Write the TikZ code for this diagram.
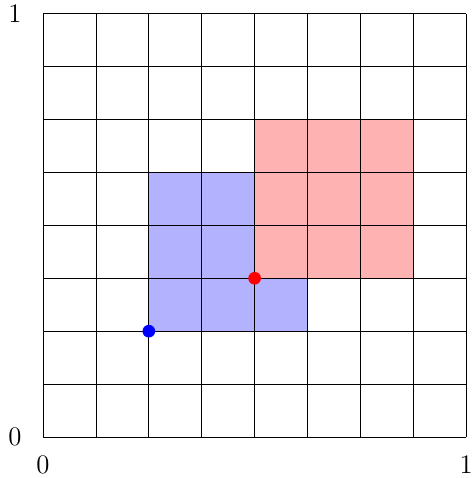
\documentclass[tikz,border=0pt]{standalone}
\usepackage{xcolor}
\usepackage{tikz}
\usetikzlibrary{positioning}

\begin{document}
\begin{tikzpicture}[font=\Large,
 lbl/.style={inner sep=0pt},
 pt/.style={circle,inner sep=0pt,minimum size=2.4mm}]
\useasboundingbox (-0.813,-0.775) rectangle (8.11,8.26);
% shaded squares
\fill[blue!30] (2,2) rectangle (5,5);
\fill[red!30] (4,3) rectangle (7,6);
\draw[thin] (0,0) grid (8,8);
% corner points
\node[pt,fill=blue] (pb) at (2,2) {};
\node[pt,fill=red] (pr) at (4,3) {};
% axis labels
\node[lbl] (y0) at (-0.53,0) {0};
\node[lbl] (y1) at (-0.53,8) {1};
\node[lbl] (x0) at (0,-0.53) {0};
\node[lbl] (x1) at (8,-0.53) {1};
\end{tikzpicture}
\end{document}
